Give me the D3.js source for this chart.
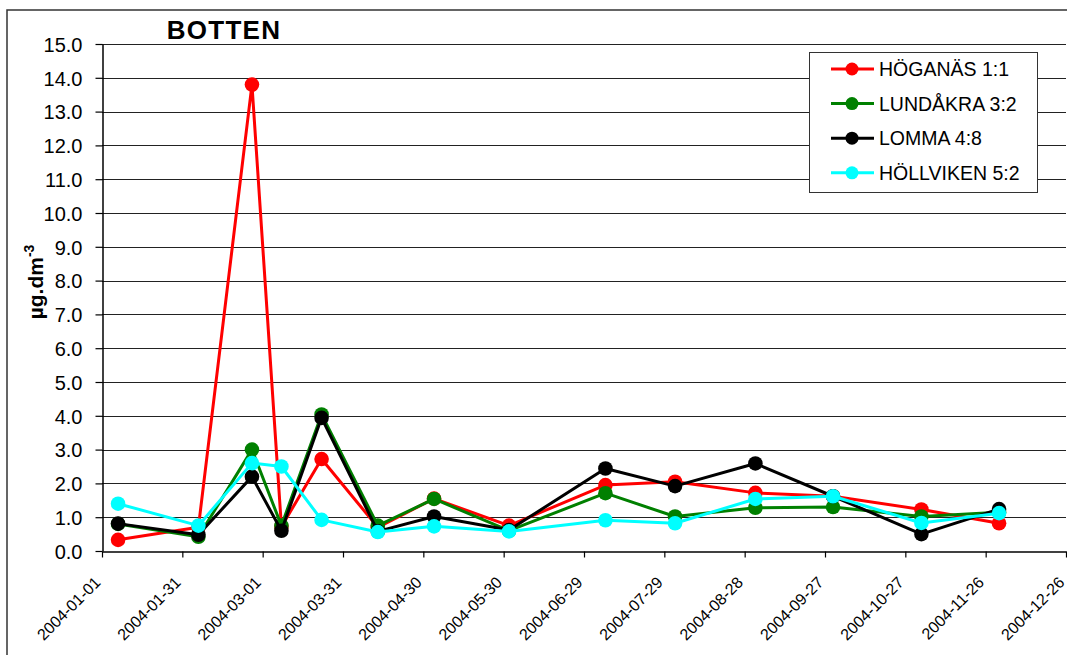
<!DOCTYPE html>
<html><head><meta charset="utf-8">
<script src="https://cdn.jsdelivr.net/npm/d3@7"></script>
<style>body{margin:0;background:#fff}svg{display:block;font-family:"Liberation Sans",Arial,sans-serif}</style>
</head><body><svg id="c" width="1067" height="655"></svg>
<script>
const dates = ["2004-01-07","2004-02-06","2004-02-26","2004-03-08","2004-03-23","2004-04-13","2004-05-04","2004-06-01","2004-07-07","2004-08-02","2004-09-01","2004-09-30","2004-11-02","2004-12-01"];
const seriesNames = ["HÖGANÄS 1:1","LUNDÅKRA 3:2","LOMMA 4:8","HÖLLVIKEN 5:2"];
const seriesColors = ["#ff0000","#008000","#000000","#00ffff"];
const hoganas   = [0.33,0.70,13.8,0.72,2.72,0.70,1.55,0.75,1.95,2.05,1.72,1.62,1.23,0.82];
const lundakra  = [0.80,0.42,3.00,0.75,4.04,0.75,1.54,0.60,1.71,1.02,1.28,1.30,1.02,1.15];
const lomma     = [0.81,0.48,2.20,0.60,3.94,0.58,1.02,0.62,2.44,1.92,2.59,1.62,0.50,1.24];
const hollviken = [1.40,0.75,2.60,2.50,0.92,0.56,0.73,0.58,0.91,0.82,1.54,1.62,0.83,1.12];
const seriesValues = [hoganas, lundakra, lomma, hollviken];
const xTickLabels = ["2004-01-01","2004-01-31","2004-03-01","2004-03-31","2004-04-30","2004-05-30","2004-06-29","2004-07-29","2004-08-28","2004-09-27","2004-10-27","2004-11-26","2004-12-26"];
const yTicks = [0,1,2,3,4,5,6,7,8,9,10,11,12,13,14,15];
const title = "BOTTEN";

const parse = d3.utcParse("%Y-%m-%d");
const svg = d3.select("#c");
const L = 102, R = 1066, T = 44, B = 551;
const x = d3.scaleUtc().domain([parse("2004-01-01"), parse("2004-12-26")]).range([L, R]);
const y = d3.scaleLinear().domain([0, 15]).range([B, T]);

// outer frame
svg.append("rect").attr("x",7).attr("y",10).attr("width",1200).attr("height",800)
  .attr("fill","none").attr("stroke","#333").attr("stroke-width",1.5);

// gridlines
svg.append("g").selectAll("line").data(yTicks.filter(d=>d>0)).join("line")
  .attr("x1",L).attr("x2",R).attr("y1",d=>Math.round(y(d))+0.5).attr("y2",d=>Math.round(y(d))+0.5)
  .attr("stroke","#222").attr("stroke-width",1);

// y axis
const ya = svg.append("g").attr("transform",`translate(${L+0.5},0)`)
  .call(d3.axisLeft(y).tickValues(yTicks).tickFormat(d3.format(".1f")).tickSize(7).tickSizeOuter(0));
ya.select(".domain").attr("stroke","#000").attr("stroke-width",1.5);
ya.selectAll(".tick line").attr("stroke","#000").attr("stroke-width",1.2);
ya.selectAll("text").attr("font-size",20).attr("fill","#000").attr("x",-20).attr("dy","0.36em")
  .attr("font-family","Liberation Sans, Arial, sans-serif");

// x axis
const xa = svg.append("g").attr("transform",`translate(0,${B+0.5})`)
  .call(d3.axisBottom(x).tickValues(xTickLabels.map(parse)).tickFormat(d3.utcFormat("%Y-%m-%d")).tickSize(6).tickSizeOuter(0));
xa.select(".domain").attr("stroke","#000").attr("stroke-width",1.5);
xa.selectAll(".tick line").attr("stroke","#000").attr("stroke-width",1.2);
xa.selectAll("text").attr("font-size",16).attr("fill","#000")
  .attr("font-family","Liberation Sans, Arial, sans-serif")
  .attr("text-anchor","end").attr("dy",0).attr("y",0)
  .attr("transform","translate(-1,32) rotate(-45)");

// lines & markers
const line = d3.line().x((d,i)=>x(parse(dates[i]))).y(d=>y(d));
seriesValues.forEach((vals,s)=>{
  const g = svg.append("g");
  g.append("path").attr("d",line(vals)).attr("fill","none")
    .attr("stroke",seriesColors[s]).attr("stroke-width",3).attr("stroke-linejoin","round");
  g.selectAll("circle").data(vals).join("circle")
    .attr("cx",(d,i)=>x(parse(dates[i]))).attr("cy",d=>y(d)).attr("r",7.3)
    .attr("fill",seriesColors[s]);
});

// title
svg.append("text").attr("x",224).attr("y",39).attr("text-anchor","middle")
  .attr("font-size",26).attr("font-weight","bold").attr("letter-spacing",1.3).attr("fill","#000").text(title);

// y label
const yl = svg.append("text").attr("transform","translate(43,282) rotate(-90)")
  .attr("text-anchor","middle").attr("font-size",21).attr("font-weight","bold").attr("fill","#000");
yl.append("tspan").text("µg.dm");
yl.append("tspan").attr("dy",-9).attr("font-size",14).text("-3");

// legend
const lg = svg.append("g");
lg.append("rect").attr("x",809.5).attr("y",52.5).attr("width",228).attr("height",140)
  .attr("fill","#fff").attr("stroke","#333").attr("stroke-width",1);
seriesNames.forEach((n,i)=>{
  const cy = 69 + i*34.6;
  lg.append("line").attr("x1",831).attr("x2",874).attr("y1",cy).attr("y2",cy)
    .attr("stroke",seriesColors[i]).attr("stroke-width",3);
  lg.append("circle").attr("cx",852).attr("cy",cy).attr("r",6.5).attr("fill",seriesColors[i]);
  lg.append("text").attr("x",879).attr("y",cy+7).attr("font-size",19.5).attr("fill","#000").text(n);
});
</script></body></html>
